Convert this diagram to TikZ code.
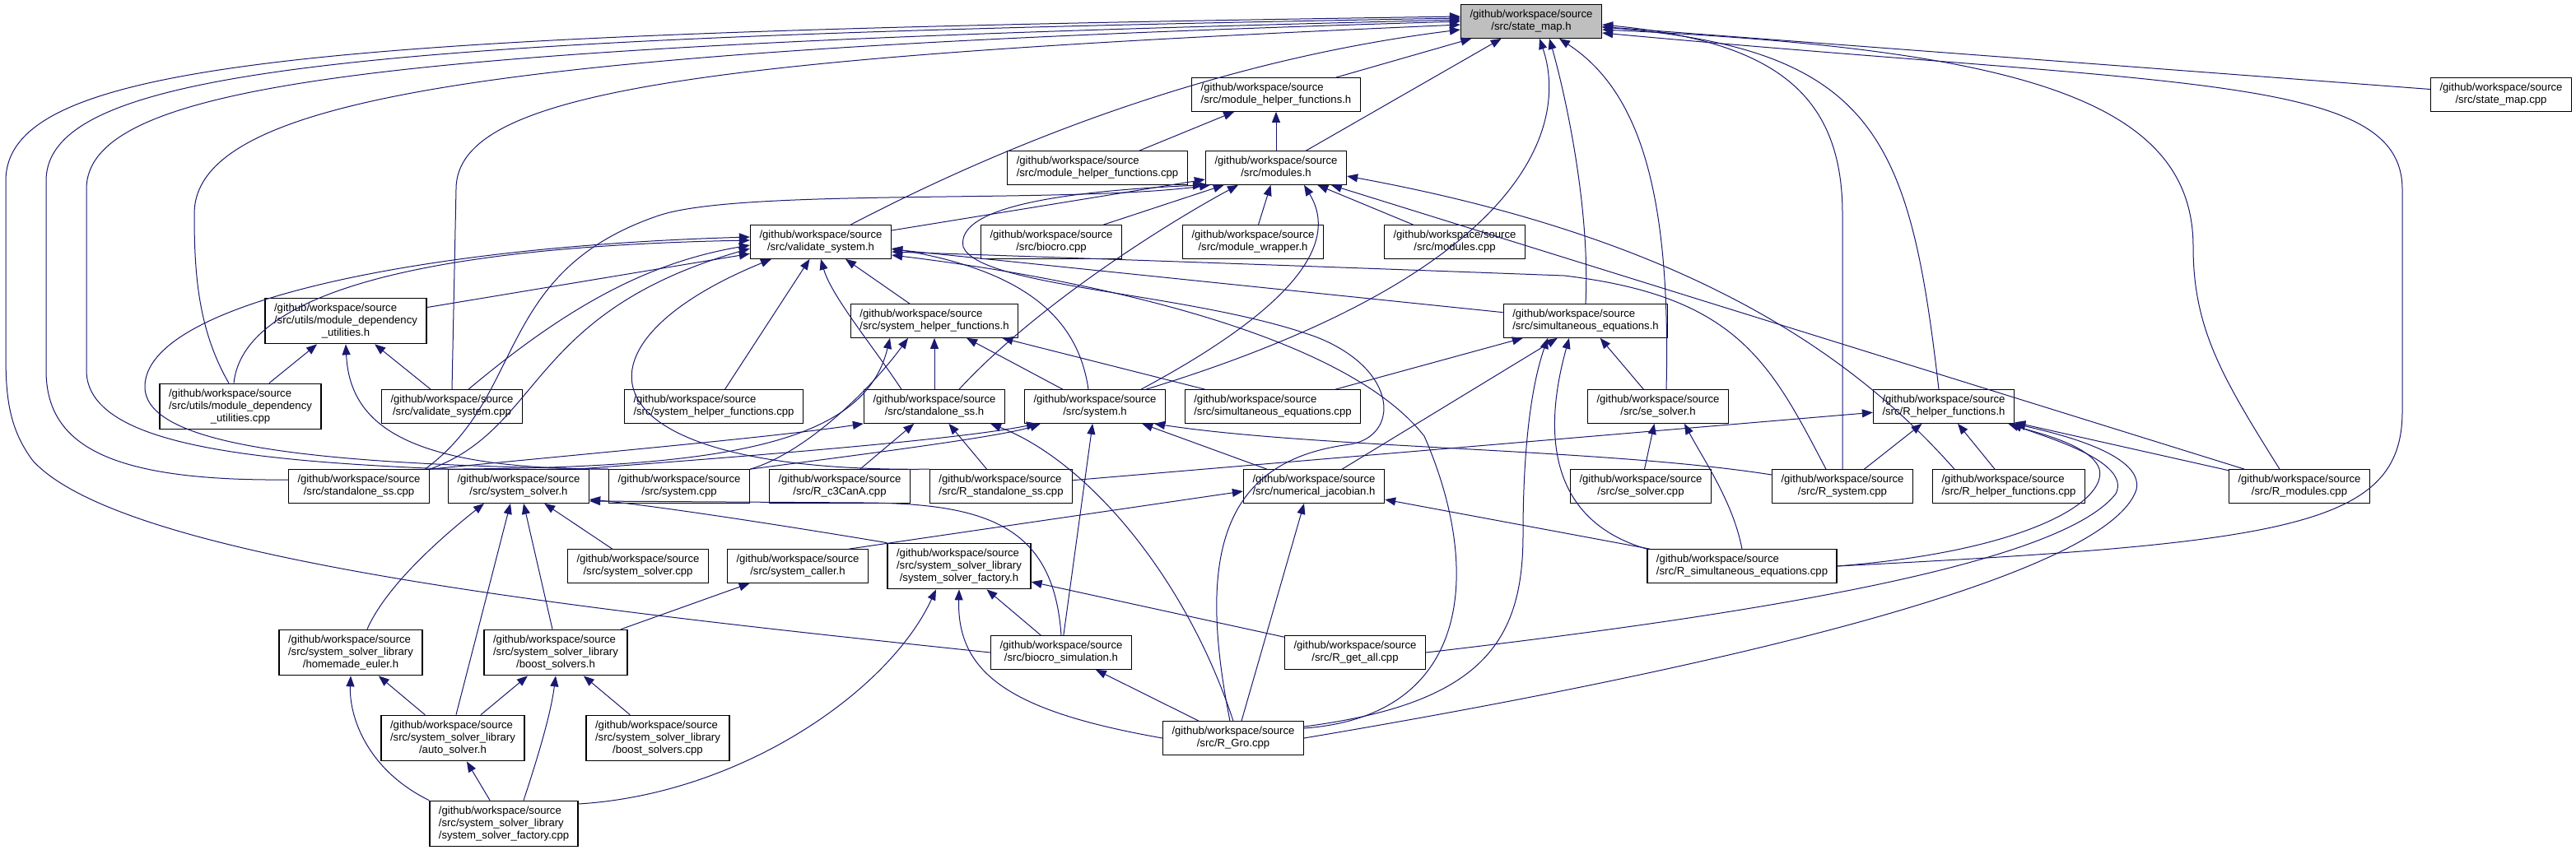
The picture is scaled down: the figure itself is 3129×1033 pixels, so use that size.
\documentclass[tikz,border=0pt]{standalone}
\usepackage{fontspec}
\setmainfont{Liberation Sans}
\usetikzlibrary{arrows.meta}
\definecolor{edgeblue}{RGB}{25,25,112}
\newcommand{\gws}{/github/workspace/source}
\newcommand{\flab}[1]{\begin{tabular}{@{}l@{}}\gws\\\multicolumn{1}{@{}c@{}}{#1}\end{tabular}}
\newcommand{\flabb}[2]{\begin{tabular}{@{}l@{}}\gws\\#1\\\multicolumn{1}{@{}c@{}}{#2}\end{tabular}}

\begin{document}
\begin{tikzpicture}[x=0.5pt,y=-0.5pt,
	srcbox/.style={draw=black,line width=0.65pt,fill=white,inner xsep=5.5pt,inner ysep=2.6pt,font=\fontsize{6.57}{7.5}\selectfont},
	incl/.style={draw=edgeblue,line width=0.5pt,-{Triangle[length=6.5pt,width=5pt]}}]

	\useasboundingbox (0,0) rectangle (3129,1033);

	\node[srcbox,fill=black!25] (sm) at (1860,26) {\flab{/src/state\_map.h}};
	\node[srcbox] (mhfh) at (1550,115) {\flab{/src/module\_helper\_functions.h}};
	\node[srcbox] (smcpp) at (3038,115) {\flab{/src/state\_map.cpp}};
	\node[srcbox] (mhfcpp) at (1333,204) {\flab{/src/module\_helper\_functions.cpp}};
	\node[srcbox] (modh) at (1550,204) {\flab{/src/modules.h}};
	\node[srcbox] (vsh) at (997,294) {\flab{/src/validate\_system.h}};
	\node[srcbox] (biocro) at (1277,294) {\flab{/src/biocro.cpp}};
	\node[srcbox] (mwh) at (1522,294) {\flab{/src/module\_wrapper.h}};
	\node[srcbox] (modcpp) at (1767,294) {\flab{/src/modules.cpp}};
	\node[srcbox] (mduh) at (420,390) {\flabb{/src/utils/module\_dependency}{\_utilities.h}};
	\node[srcbox] (shfh) at (1135,390) {\flab{/src/system\_helper\_functions.h}};
	\node[srcbox] (seh) at (1926,390) {\flab{/src/simultaneous\_equations.h}};
	\node[srcbox] (mducpp) at (292,494) {\flabb{/src/utils/module\_dependency}{\_utilities.cpp}};
	\node[srcbox] (vscpp) at (549,494) {\flab{/src/validate\_system.cpp}};
	\node[srcbox] (shfcpp) at (867,494) {\flab{/src/system\_helper\_functions.cpp}};
	\node[srcbox] (ssh) at (1135,494) {\flab{/src/standalone\_ss.h}};
	\node[srcbox] (sysh) at (1330,494) {\flab{/src/system.h}};
	\node[srcbox] (secpp) at (1546,494) {\flab{/src/simultaneous\_equations.cpp}};
	\node[srcbox] (sesh) at (2014,494) {\flab{/src/se\_solver.h}};
	\node[srcbox] (rhfh) at (2361,494) {\flab{/src/R\_helper\_functions.h}};
	\node[srcbox] (sscpp) at (436,591) {\flab{/src/standalone\_ss.cpp}};
	\node[srcbox] (ssolh) at (630,591) {\flab{/src/system\_solver.h}};
	\node[srcbox] (syscpp) at (825,591) {\flab{/src/system.cpp}};
	\node[srcbox] (c3cpp) at (1020,591) {\flab{/src/R\_c3CanA.cpp}};
	\node[srcbox] (rsscpp) at (1216,591) {\flab{/src/R\_standalone\_ss.cpp}};
	\node[srcbox] (njh) at (1596,591) {\flab{/src/numerical\_jacobian.h}};
	\node[srcbox] (sescpp) at (1993,591) {\flab{/src/se\_solver.cpp}};
	\node[srcbox] (rsyscpp) at (2238,591) {\flab{/src/R\_system.cpp}};
	\node[srcbox] (rhfcpp) at (2440,591) {\flab{/src/R\_helper\_functions.cpp}};
	\node[srcbox] (rmodcpp) at (2793,591) {\flab{/src/R\_modules.cpp}};
	\node[srcbox] (ssolcpp) at (775,688) {\flab{/src/system\_solver.cpp}};
	\node[srcbox] (scallh) at (969,688) {\flab{/src/system\_caller.h}};
	\node[srcbox] (ssfh) at (1165,688) {\flabb{/src/system\_solver\_library}{/system\_solver\_factory.h}};
	\node[srcbox] (rseqcpp) at (2116,688) {\flab{/src/R\_simultaneous\_equations.cpp}};
	\node[srcbox] (eulerh) at (426,793) {\flabb{/src/system\_solver\_library}{/homemade\_euler.h}};
	\node[srcbox] (boosth) at (675,793) {\flabb{/src/system\_solver\_library}{/boost\_solvers.h}};
	\node[srcbox] (bsimh) at (1289,793) {\flab{/src/biocro\_simulation.h}};
	\node[srcbox] (rgacpp) at (1646,793) {\flab{/src/R\_get\_all.cpp}};
	\node[srcbox] (autoh) at (550,897) {\flabb{/src/system\_solver\_library}{/auto\_solver.h}};
	\node[srcbox] (boostcpp) at (799,897) {\flabb{/src/system\_solver\_library}{/boost\_solvers.cpp}};
	\node[srcbox] (rgro) at (1498,897) {\flab{/src/R\_Gro.cpp}};
	\node[srcbox] (ssfcpp) at (612,1001) {\flabb{/src/system\_solver\_library}{/system\_solver\_factory.cpp}};

	\draw[incl] (mhfh) -- (sm);
	\draw[incl] (modh) -- (sm);
	\draw[incl] (smcpp) -- (sm);
	\draw[incl] ([xshift=-25pt]vsh.north east) .. controls (1250,160) and (1500,70) .. ([yshift=-5pt]sm.west);
	\draw[incl] ([xshift=31pt]sysh.north) .. controls (1860,330) and (1905,150) .. ([xshift=5pt]sm.south);
	\draw[incl] (seh.north) .. controls (1932,250) and (1900,110) .. ([xshift=11pt]sm.south);
	\draw[incl] ([xshift=5pt]sesh.north) .. controls (2030,230) and (1990,110) .. ([xshift=17pt]sm.south);
	\draw[incl] (rsyscpp.north) -- (2238,260) .. controls (2238,110) and (2150,50) .. ([yshift=-2pt]sm.east);
	\draw[incl] ([xshift=-3pt]rhfh.north) .. controls (2320,170) and (2280,60) .. ([yshift=-3.5pt]sm.east);
	\draw[incl] ([xshift=-12pt]rmodcpp.north) .. controls (2700,460) and (2664,400) .. (2664,300) .. controls (2664,120) and (2450,60) .. ([yshift=-5pt]sm.east);
	\draw[incl] (rseqcpp.east) .. controls (2780,660) and (2918,640) .. (2918,500) -- (2918,230) .. controls (2918,90) and (2650,105) .. ([yshift=-7pt]sm.east);
	\draw[incl] (vscpp.north) -- (554,230) .. controls (554,110) and (850,70) .. ([yshift=-2pt]sm.west);
	\draw[incl] ([xshift=-7pt]mducpp.north) .. controls (240,400) and (236,330) .. (236,260) .. controls (236,110) and (650,60) .. (sm.west);
	\draw[incl] ([yshift=4pt]sscpp.west) .. controls (130,585) and (56,540) .. (56,450) -- (56,220) .. controls (56,80) and (450,45) .. ([yshift=2pt]sm.west);
	\draw[incl] (ssolh.north west) .. controls (300,560) and (105,540) .. (105,450) -- (105,230) .. controls (105,95) and (500,55) .. ([yshift=1pt]sm.west);
	\draw[incl] (bsimh.west) .. controls (700,740) and (150,680) .. (40,560) .. controls (10,520) and (7,480) .. (7,430) -- (7,220) .. controls (7,70) and (400,40) .. ([yshift=3pt]sm.west);

	\draw[incl] (mduh) -- (vsh);
	\draw[incl] ([xshift=-4pt]mducpp.north) .. controls (295,360) and (500,300) .. ([yshift=1pt]vsh.west);
	\draw[incl] ([xshift=10pt]vscpp.north) .. controls (680,380) and (780,320) .. ([yshift=-2pt]vsh.west);
	\draw[incl] (syscpp.north west) .. controls (400,565) and (176,545) .. (176,470) .. controls (176,370) and (500,300) .. ([yshift=3pt]vsh.west);
	\draw[incl] (sscpp.north east) .. controls (660,520) and (640,380) .. ([yshift=-4pt]vsh.west);
	\draw[incl] (rsscpp.north west) .. controls (700,575) and (680,420) .. ([xshift=-30pt]vsh.south);
	\draw[incl] (shfcpp) -- (vsh);
	\draw[incl] ([xshift=-20pt]ssh.north) .. controls (1060,420) and (1010,360) .. (vsh.south);
	\draw[incl] (shfh) -- (vsh);
	\draw[incl] ([xshift=-4pt]sysh.north) .. controls (1310,390) and (1250,330) .. ([yshift=-4pt]vsh.east);
	\draw[incl] (seh) -- (vsh);
	\draw[incl] ([xshift=-10pt]rsyscpp.north) .. controls (2150,440) and (2110,360) .. (1900,335) .. controls (1500,320) and (1200,310) .. ([yshift=-6pt]vsh.east);
	\draw[incl] ([yshift=6pt]rgro.east) .. controls (1790,870) and (1800,690) .. (1730,530) .. controls (1620,390) and (1250,330) .. ([yshift=-8pt]vsh.east);

	\draw[incl] (modh) -- (mhfh);
	\draw[incl] (mhfcpp) -- (mhfh);
	\draw[incl] (vsh) -- (modh);
	\draw[incl] ([xshift=-3pt]sscpp.north east) .. controls (640,480) and (600,330) .. (800,262) .. controls (900,228) and (1300,248) .. ([xshift=-40pt]modh.south);
	\draw[incl] (biocro) -- (modh);
	\draw[incl] ([xshift=15pt]ssh.north) .. controls (1260,370) and (1420,270) .. ([xshift=-23pt]modh.south);
	\draw[incl] (mwh) -- (modh);
	\draw[incl] ([xshift=28pt]sysh.north) .. controls (1560,380) and (1630,300) .. ([xshift=17pt]modh.south);
	\draw[incl] (modcpp) -- (modh);
	\draw[incl] (rmodcpp) -- (modh);
	\draw[incl] ([xshift=-33pt]rhfcpp.north) .. controls (2250,430) and (2050,290) .. ([yshift=-5pt]modh.east);
	\draw[incl] ([xshift=-2pt]rgro.north) .. controls (1455,680) and (1480,560) .. (1640,540) .. controls (1700,530) and (1700,450) .. (1600,410) .. controls (1450,355) and (1190,350) .. (1170,300) .. controls (1160,250) and (1300,232) .. ([xshift=-44pt]modh.south);

	\draw[incl] (ssh) -- (shfh);
	\draw[incl] (sysh) -- (shfh);
	\draw[incl] (secpp) -- (shfh);
	\draw[incl] (syscpp.north east) .. controls (980,550) and (1060,470) .. ([xshift=-16pt]shfh.south);
	\draw[incl] (sscpp.north east) .. controls (880,570) and (1050,540) .. ([xshift=-27pt]shfh.south);

	\draw[incl] (sscpp.north east) .. controls (750,548) and (950,530) .. (ssh.south west);
	\draw[incl] (c3cpp) -- (ssh);
	\draw[incl] (rsscpp) -- (ssh);
	\draw[incl] (rgro.north) .. controls (1440,700) and (1320,560) .. ([xshift=34pt]ssh.south);

	\draw[incl] (syscpp.north east) .. controls (1050,552) and (1220,530) .. ([xshift=-33pt]sysh.south);
	\draw[incl] ([xshift=35pt]ssolh.north) .. controls (900,555) and (1160,535) .. ([xshift=-35pt]sysh.south);
	\draw[incl] (bsimh) -- (sysh);
	\draw[incl] (njh) -- (sysh);
	\draw[incl] ([yshift=7pt]rsyscpp.west) .. controls (1950,545) and (1600,545) .. ([xshift=36pt]sysh.south);

	\draw[incl] (secpp) -- (seh);
	\draw[incl] (njh) -- (seh);
	\draw[incl] ([yshift=7pt]rgro.east) .. controls (1800,855) and (1850,780) .. (1850,650) .. controls (1850,500) and (1870,440) .. ([xshift=-23pt]seh.south);
	\draw[incl] (rseqcpp.north west) .. controls (1890,635) and (1870,540) .. ([xshift=-10pt]seh.south);
	\draw[incl] (sesh) -- (seh);

	\draw[incl] (sescpp) -- (sesh);
	\draw[incl] (rseqcpp.north) .. controls (2105,610) and (2070,560) .. ([xshift=16pt]sesh.south);

	\draw[incl] (rsscpp) -- (rhfh);
	\draw[incl] (rsyscpp) -- (rhfh);
	\draw[incl] (rhfcpp) -- (rhfh);
	\draw[incl] (rmodcpp) -- (rhfh);
	\draw[incl] (rseqcpp.east) .. controls (2460,670) and (2560,610) .. (2550,570) .. controls (2540,540) and (2470,525) .. ([xshift=-4pt]rhfh.south east);
	\draw[incl] (rgacpp.east) .. controls (2100,750) and (2500,690) .. (2570,600) .. controls (2590,560) and (2480,530) .. ([xshift=-2pt]rhfh.south east);
	\draw[incl] (rgro.east) .. controls (2100,810) and (2560,700) .. (2595,595) .. controls (2605,550) and (2490,525) .. (rhfh.south east);

	\draw[incl] ([xshift=-12pt]scallh.north east) -- ([yshift=-3pt]njh.west);
	\draw[incl] ([xshift=5pt]rgro.north) -- ([xshift=-6pt]njh.south);
	\draw[incl] (rseqcpp) -- (njh);

	\draw[incl] ([xshift=10pt]eulerh.north) .. controls (470,710) and (540,650) .. ([xshift=-21pt]ssolh.south);
	\draw[incl] ([xshift=2pt]autoh.north) -- ([xshift=-5pt]ssolh.south);
	\draw[incl] ([xshift=-2pt]boosth.north) -- ([xshift=3pt]ssolh.south);
	\draw[incl] (ssolcpp) -- (ssolh);
	\draw[incl] (ssfh.north west) .. controls (960,640) and (800,615) .. ([yshift=-8pt]ssolh.east);
	\draw[incl] (bsimh.north) .. controls (1280,640) and (1200,612) .. (1050,611) -- ([yshift=-9pt]ssolh.east);
	\draw[incl] (boosth) -- (scallh);

	\draw[incl] ([yshift=12pt]ssfcpp.east) .. controls (900,965) and (1080,840) .. ([xshift=-14pt]ssfh.south);
	\draw[incl] (rgro.west) .. controls (1230,865) and (1162,820) .. (ssfh.south);
	\draw[incl] (bsimh) -- (ssfh);
	\draw[incl] (rgacpp) -- (ssfh);

	\draw[incl] (ssfcpp.north west) .. controls (445,935) and (424,870) .. (eulerh.south);
	\draw[incl] (autoh) -- (eulerh);
	\draw[incl] (autoh) -- (boosth);
	\draw[incl] ([xshift=12pt]ssfcpp.north) .. controls (660,900) and (670,860) .. (boosth.south);
	\draw[incl] (boostcpp) -- (boosth);
	\draw[incl] (ssfcpp) -- (autoh);
	\draw[incl] (rgro) -- (bsimh);

	\draw[incl] (mducpp) -- (mduh);
	\draw[incl] (vscpp) -- (mduh);
	\draw[incl] (syscpp.north west) .. controls (500,570) and (425,520) .. (mduh.south);

\end{tikzpicture}
\end{document}
